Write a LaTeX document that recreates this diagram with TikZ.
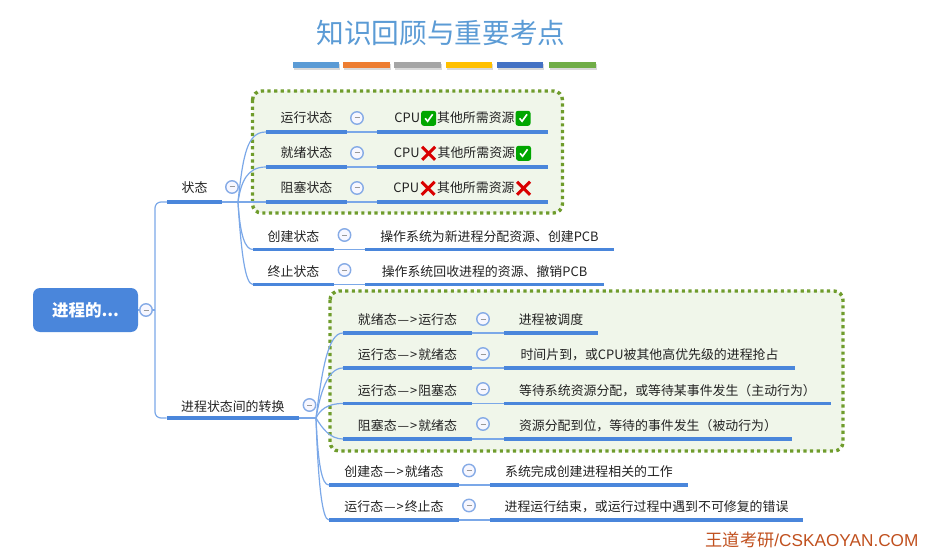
\documentclass[tikz,border=0pt]{standalone}
\usepackage{fontspec}
\setmainfont{Noto Sans CJK SC}
\newfontfamily\latinfont{Liberation Sans}
\usetikzlibrary{shadows}

\definecolor{mapblue}{HTML}{4A86DB}
\definecolor{linkblue}{HTML}{7BA8E8}
\definecolor{ringblue}{HTML}{86ABE6}
\definecolor{boxgreen}{HTML}{6F9C2C}
\definecolor{boxfill}{HTML}{F0F6EA}
\definecolor{marktext}{HTML}{222222}

\tikzset{
    bar/.style={draw=mapblue, line width=3.6pt},
    topic/.style={anchor=south, inner sep=0pt, minimum height=26pt, text=marktext,
        font=\fontsize{12.9}{15}\selectfont,
        append after command={(\tikzlastnode.south west) edge [bar] (\tikzlastnode.south east)}},
    link/.style={draw=linkblue, line width=1.2pt},
    fold/.style={circle, draw=ringblue, line width=1.4pt, fill=blue!3, minimum size=12.5pt, inner sep=0pt,
        path picture={\draw [gray!80, line width=1pt] ([xshift=-2.5pt]path picture bounding box.center) -- ([xshift=2.5pt]path picture bounding box.center);}},
    groupbox/.style={draw=boxgreen, fill=boxfill, line width=3.4pt, dash pattern=on 3.2pt off 3.4pt, rounded corners=9pt},
    colorbar/.style={drop shadow={shadow xshift=1pt, shadow yshift=-2pt, opacity=.3}},
}

\newcommand{\yesmark}{\hspace{1pt}\tikz [baseline=-4.5pt, x=1pt, y=1pt] {
    \fill [green!65!black, rounded corners=2.5pt] (-7.5,-7.5) rectangle (7.5,7.5);
    \draw [white, line width=1.6pt] (-3.5,0) -- (-1,-3) -- (4,4);}\hspace{1pt}}
\newcommand{\nomark}{\hspace{1pt}\tikz [baseline=-4.5pt, x=1pt, y=1pt] {
    \draw [red!85!black, line width=3pt] (-6.5,-6.5) -- (6.5,6.5) (-6.5,6.5) -- (6.5,-6.5);}\hspace{1pt}}
\newcommand{\goesto}{\hspace{1pt}—\hspace{1pt}>\hspace{1pt}}

\begin{document}
\begin{tikzpicture}[x=1pt, y=-1pt]
    \useasboundingbox (0,0) rectangle (934,548);

    \node [text={rgb,255:red,91;green,155;blue,213}, font=\fontsize{27.7}{30}\selectfont] (title) at (441,33) {知识回顾与重要考点};

    \fill [colorbar, fill={rgb,255:red,91;green,155;blue,213}] (293,62) rectangle (339,68);
    \fill [colorbar, fill={rgb,255:red,237;green,125;blue,49}] (343,62) rectangle (390,68);
    \fill [colorbar, fill={rgb,255:red,165;green,165;blue,165}] (394,62) rectangle (441,68);
    \fill [colorbar, fill={rgb,255:red,255;green,192;blue,0}] (446,62) rectangle (492,68);
    \fill [colorbar, fill={rgb,255:red,68;green,114;blue,196}] (497,62) rectangle (543,68);
    \fill [colorbar, fill={rgb,255:red,112;green,173;blue,71}] (549,62) rectangle (596,68);

    \draw [groupbox] (252.5,91) rectangle (562.5,213);
    \draw [groupbox] (330,291) rectangle (843,451);

    \node [fill=mapblue, rounded corners=7pt, minimum width=105pt, minimum height=44pt, text=white, font=\fontsize{16.5}{18}\bfseries\selectfont] (root) at (85.5,310) {进程的...};
    \node [fold] (foldroot) at (146,310) {};
    \coordinate (rootfork) at (155,310);

    \node [topic, minimum width=55pt, minimum height=28pt] (state) at (194.5,202) {状态};
    \node [fold] (foldstate) at (232,187) {};
    \coordinate (statefork) at (238,202);
    \node [topic, minimum width=132pt, minimum height=23pt] (change) at (232.8,418) {进程状态间的转换};
    \node [fold] (foldchange) at (309.5,405) {};
    \coordinate (changefork) at (316,418);

    \node [topic, minimum width=81pt, minimum height=28pt] (running) at (306.5,132) {运行状态};
    \node [fold] (foldrunning) at (357,118) {};
    \node [topic, minimum width=171pt, minimum height=27pt] (runningnote) at (462.5,132) {CPU\yesmark{}其他所需资源\yesmark};
    \node [topic, minimum width=81pt, minimum height=28pt] (ready) at (306.5,167) {就绪状态};
    \node [fold] (foldready) at (357,153) {};
    \node [topic, minimum width=171pt, minimum height=27pt] (readynote) at (462.5,167) {CPU\nomark{}其他所需资源\yesmark};
    \node [topic, minimum width=81pt, minimum height=28pt] (blocked) at (306.5,202) {阻塞状态};
    \node [fold] (foldblocked) at (357,188) {};
    \node [topic, minimum width=171pt, minimum height=27pt] (blockednote) at (462.5,202) {CPU\nomark{}其他所需资源\nomark};
    \node [topic, minimum width=81pt] (created) at (293.5,249.5) {创建状态};
    \node [fold] (foldcreated) at (344.5,235) {};
    \node [topic, minimum width=249pt] (creatednote) at (489.5,249.5) {操作系统为新进程分配资源、创建PCB};
    \node [topic, minimum width=81pt] (ended) at (293.5,284.5) {终止状态};
    \node [fold] (foldended) at (344.5,270) {};
    \node [topic, minimum width=239pt] (endednote) at (484.5,284.5) {操作系统回收进程的资源、撤销PCB};

    \node [topic, minimum width=129pt] (readyrun) at (407.5,333) {就绪态\goesto{}运行态};
    \node [fold] (foldreadyrun) at (483,319) {};
    \node [topic, minimum width=94pt] (readyrunnote) at (551,333) {进程被调度};
    \node [topic, minimum width=129pt] (runready) at (407.5,368) {运行态\goesto{}就绪态};
    \node [fold] (foldrunready) at (483,354) {};
    \node [topic, minimum width=291pt] (runreadynote) at (649.5,368) {时间片到，或CPU被其他高优先级的进程抢占};
    \node [topic, minimum width=129pt] (runblock) at (407.5,403.5) {运行态\goesto{}阻塞态};
    \node [fold] (foldrunblock) at (483,389) {};
    \node [topic, minimum width=327pt] (runblocknote) at (667.5,403.5) {等待系统资源分配，或等待某事件发生（主动行为）};
    \node [topic, minimum width=129pt] (blockready) at (407.5,439) {阻塞态\goesto{}就绪态};
    \node [fold] (foldblockready) at (483,424) {};
    \node [topic, minimum width=288pt] (blockreadynote) at (648,439) {资源分配到位，等待的事件发生（被动行为）};
    \node [topic, minimum width=130pt] (newready) at (394,485) {创建态\goesto{}就绪态};
    \node [fold] (foldnewready) at (469,470.5) {};
    \node [topic, minimum width=198pt] (newreadynote) at (589,485) {系统完成创建进程相关的工作};
    \node [topic, minimum width=130pt] (runend) at (394,520) {运行态\goesto{}终止态};
    \node [fold] (foldrunend) at (469,505.5) {};
    \node [topic, minimum width=313pt] (runendnote) at (646.5,520) {进程运行结束，或运行过程中遇到不可修复的错误};

    \draw [link] (root) -- (foldroot) -- (rootfork);
    \draw [link, rounded corners=6pt] (rootfork) |- (state.south west);
    \draw [link, rounded corners=6pt] (rootfork) |- (change.south west);

    \draw [link] (state.south east) -- (statefork);
    \draw [link] (statefork) .. controls (243,155) and (247,132) .. (running.south west);
    \draw [link] (statefork) .. controls (241,182) and (247,167) .. (ready.south west);
    \draw [link] (statefork) -- (blocked.south west);
    \draw [link] (statefork) .. controls (240,235) and (245,249.5) .. (created.south west);
    \draw [link] (statefork) .. controls (241,250) and (245,284.5) .. (ended.south west);

    \draw [link] (change.south east) -- (changefork);
    \draw [link] (changefork) .. controls (322,370) and (328,333) .. (readyrun.south west);
    \draw [link] (changefork) .. controls (320,395) and (327,368) .. (runready.south west);
    \draw [link] (changefork) .. controls (320,410) and (327,403.5) .. (runblock.south west);
    \draw [link] (changefork) .. controls (322,428) and (330,439) .. (blockready.south west);
    \draw [link] (changefork) .. controls (318,465) and (322,485) .. (newready.south west);
    \draw [link] (changefork) .. controls (318,480) and (322,520) .. (runend.south west);

    \draw [link] (running.south east) -- (runningnote.south west);
    \draw [link] (ready.south east) -- (readynote.south west);
    \draw [link] (blocked.south east) -- (blockednote.south west);
    \draw [link] (created.south east) -- (creatednote.south west);
    \draw [link] (ended.south east) -- (endednote.south west);
    \draw [link] (readyrun.south east) -- (readyrunnote.south west);
    \draw [link] (runready.south east) -- (runreadynote.south west);
    \draw [link] (runblock.south east) -- (runblocknote.south west);
    \draw [link] (blockready.south east) -- (blockreadynote.south west);
    \draw [link] (newready.south east) -- (newreadynote.south west);
    \draw [link] (runend.south east) -- (runendnote.south west);

    \node [inner sep=0pt, text={rgb,255:red,192;green,80;blue,30}, font=\fontsize{17.2}{18}\selectfont] (mark) at (812,539.5) {王道考研{\latinfont /CSKAOYAN.COM}};
\end{tikzpicture}
\end{document}
